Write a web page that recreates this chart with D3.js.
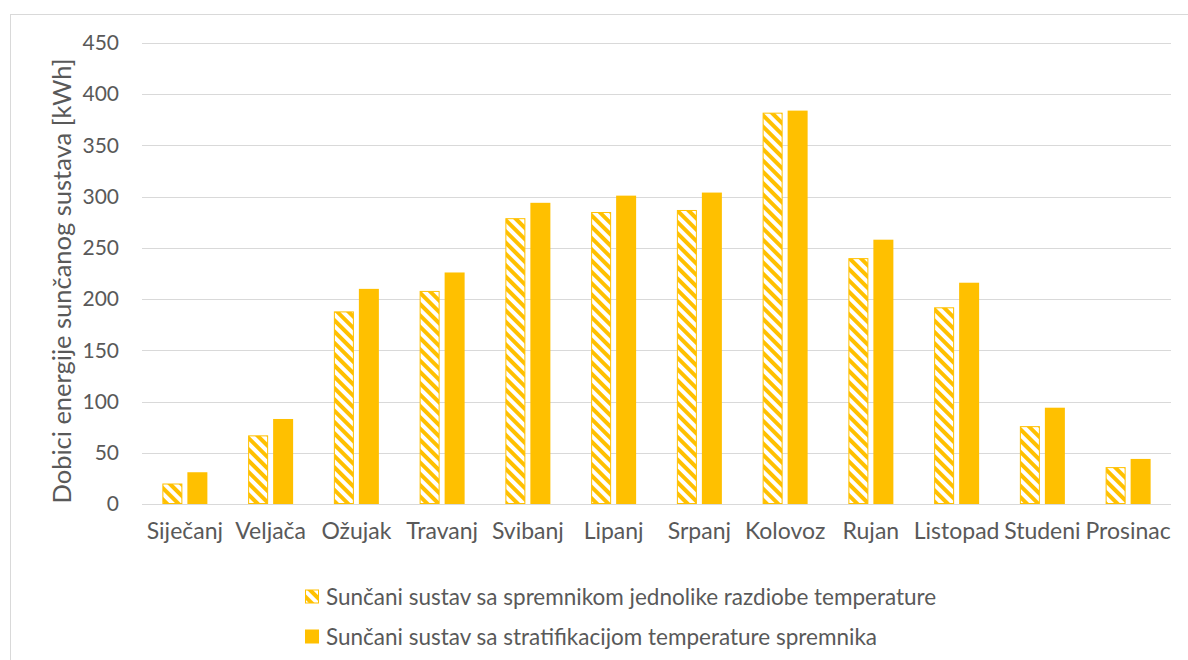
<!DOCTYPE html>
<html><head><meta charset="utf-8">
<script src="https://cdn.jsdelivr.net/npm/d3@7"></script>
<style>body{margin:0;background:#fff}svg{display:block;font-family:Lato,sans-serif}</style>
</head><body><svg id="c" width="1188" height="660"></svg>
<script>
const categories = ["Siječanj","Veljača","Ožujak","Travanj","Svibanj","Lipanj","Srpanj","Kolovoz","Rujan","Listopad","Studeni","Prosinac"];
const uniformValues = [20,67,188,208,279,285,287,382,240,192,76,36];
const stratifiedValues = [31,83,210,226,294,301,304,384,258,216,94,44];
const seriesNames = ["Sunčani sustav sa spremnikom jednolike razdiobe temperature","Sunčani sustav sa stratifikacijom temperature spremnika"];
const yTicks = [0,50,100,150,200,250,300,350,400,450];

const svg = d3.select("#c");
const orange = "#FFC000", text = "#595959", grid = "#d9d9d9";
const FONT = "Lato";

const defs = svg.append("defs");
const pat = defs.append("pattern").attr("id","hatch").attr("patternUnits","userSpaceOnUse")
  .attr("width",8).attr("height",8).attr("patternTransform","rotate(-45)");
pat.append("rect").attr("width",8).attr("height",8).attr("fill","#fff");
pat.append("rect").attr("x",0).attr("width",4).attr("height",8).attr("fill",orange);

svg.append("rect").attr("x",10.5).attr("y",14.5).attr("width",1200).attr("height",700)
  .attr("fill","#fff").attr("stroke",grid);

const x = d3.scaleBand().domain(categories).range([142,1171]);
const y = d3.scaleLinear().domain([0,450]).range([504,43]);

const g = svg.append("g");
g.selectAll(".grid").data(yTicks).enter().append("line")
  .attr("x1",142).attr("x2",1171).attr("y1",d=>Math.round(y(d))+0.5).attr("y2",d=>Math.round(y(d))+0.5)
  .attr("stroke",grid).attr("stroke-width",1.2);

const yAxis = svg.append("g").attr("transform","translate(142,0)")
  .call(d3.axisLeft(y).tickValues(yTicks).tickSize(0).tickPadding(23));
yAxis.select(".domain").remove();
yAxis.selectAll("text").attr("fill",text).style("font-size","21px").style("font-family",FONT);

const bw = 20, gap = 5;
const grpW = 2*bw+gap;
g.selectAll(".b1").data(categories).enter().append("rect")
  .attr("x",d=>x(d)+x.bandwidth()/2-grpW/2+0.5)
  .attr("y",(d,i)=>y(uniformValues[i])+0.5)
  .attr("width",bw-1).attr("height",(d,i)=>y(0)-y(uniformValues[i])-1)
  .attr("fill","url(#hatch)").attr("stroke",orange).attr("stroke-width",1);
g.selectAll(".b2").data(categories).enter().append("rect")
  .attr("x",d=>x(d)+x.bandwidth()/2-grpW/2+bw+gap)
  .attr("y",(d,i)=>y(stratifiedValues[i]))
  .attr("width",bw).attr("height",(d,i)=>y(0)-y(stratifiedValues[i]))
  .attr("fill",orange);

const xAxis = svg.append("g").attr("transform","translate(0,504)")
  .call(d3.axisBottom(x).tickSize(0).tickPadding(19));
xAxis.select(".domain").remove();
xAxis.selectAll("text").attr("fill",text).style("font-size","23px").style("font-family",FONT);

svg.append("text").attr("transform","translate(62,281) rotate(-90)").attr("text-anchor","middle")
  .attr("dy","0.35em").attr("fill",text).style("font-size","25.5px").text("Dobici energije sunčanog sustava [kWh]");

const leg = svg.append("g");
[0,1].forEach(i=>{
  const ly = 597 + i*40;
  leg.append("rect").attr("x",i==0?305.5:305).attr("y",ly-7.5+(i==0?0.5:0)).attr("width",i==0?13:14).attr("height",i==0?13:14)
    .attr("fill",i==0?"url(#hatch)":orange).attr("stroke",i==0?orange:"none");
  leg.append("text").attr("x",326).attr("y",ly).attr("dy","0.35em").attr("fill",text)
    .style("font-size","22.5px").text(seriesNames[i]);
});
</script></body></html>
